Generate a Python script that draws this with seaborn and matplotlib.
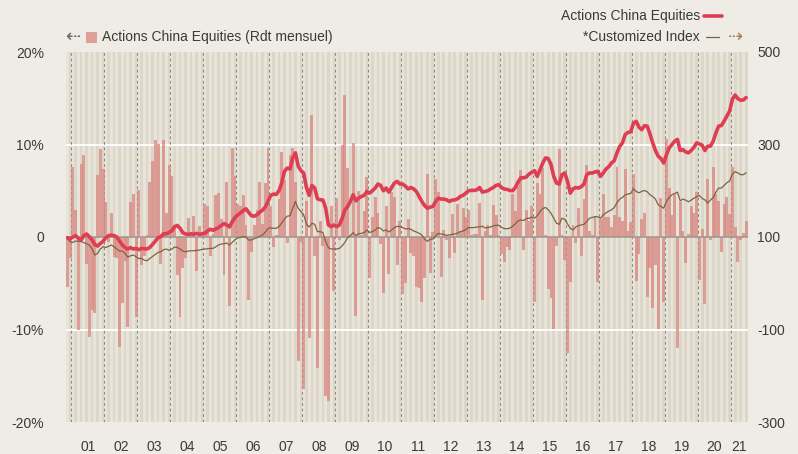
import matplotlib
matplotlib.use("Agg")
import matplotlib.pyplot as plt
import numpy as np
import pandas as pd
import seaborn as sns
from matplotlib.patches import Rectangle
from matplotlib.lines import Line2D

# ---------------- data (monthly, Nov 2000 .. Jun 2021) ----------------
year_labels = ["01", "02", "03", "04", "05", "06", "07", "08", "09", "10", "11",
               "12", "13", "14", "15", "16", "17", "18", "19", "20", "21"]

monthly_return = [
    -5.4, -2.3, 7.6, 2.9, -10.1, 7.9, 8.9, -2.9, -10.8, -7.9,
    -8.2, 6.7, 9.5, 7.3, 3.8, -0.5, 2.6, -2.2, -2.3, -11.9,
    -7.1, -2.6, -9.7, 3.8, 4.6, -8.7, 5.1, -3.0, -2.0, 0.2,
    5.9, 8.2, 10.5, 10.1, -2.9, 10.5, 2.6, 7.8, 6.6, 1.0,
    -4.1, -8.6, -3.3, -2.3, 2.1, 0.3, 2.3, -3.7, 1.2, 0.3,
    3.6, 3.4, -2.0, 0.3, 4.5, 4.8, 2.0, -4.1, 5.9, -7.5,
    9.6, 6.6, 3.6, 3.3, 4.5, 1.3, -6.8, -1.6, 1.3, 2.9,
    5.9, 1.4, 5.8, 9.6, 3.3, -1.1, 0.2, 4.1, 9.2, 6.2,
    -0.6, 8.9, 9.6, 5.9, -13.4, -0.5, -16.4, 3.9, -10.9, 13.2,
    -2.0, -14.2, 1.7, -1.0, -17.2, -17.7, 3.3, -5.8, 4.2, -0.3,
    10.0, 15.3, 7.5, 0.2, 10.2, -8.5, 5.0, 0.2, 2.8, 6.5,
    -4.4, 2.2, 4.3, 2.6, -0.8, -6.1, 3.4, -4.0, 4.9, 4.3,
    -3.0, 1.7, -6.2, -5.0, 2.0, -1.7, -2.1, -5.4, -5.5, -7.0,
    -4.4, 6.8, -3.9, 0.5, 6.3, 4.9, -4.3, 0.8, -0.3, -2.3,
    2.5, -1.7, 3.6, 0.6, 3.1, 2.2, 2.9, 0.2, 0.3, 0.3,
    3.7, -6.8, 0.7, 1.3, 0.2, 3.5, 2.4, 0.2, -1.8, -2.7,
    -1.1, -1.4, 4.7, 2.8, 5.5, 7.2, -1.4, 2.9, 1.7, 3.4,
    -7.0, 5.8, 4.6, 7.5, 0.2, -5.6, -6.6, -9.9, -1.0, 9.5,
    0.2, -2.5, -12.5, -4.9, 1.3, -0.7, 3.1, -2.0, 4.1, 7.8,
    0.7, 0.2, 2.2, -4.9, 2.0, 4.6, 2.2, 2.2, 1.1, 2.4,
    7.6, 2.2, 1.7, 7.4, 0.6, 1.6, 6.8, -4.8, -1.8, 1.9,
    2.6, -6.5, -3.3, -7.7, -3.0, -9.9, 4.2, -7.0, 10.6, 5.3,
    2.4, 4.6, -12.0, 3.8, 0.7, -2.8, 0.3, 3.3, 2.6, 4.9,
    -4.7, 0.9, -7.2, 6.3, -0.3, 7.6, 4.6, 3.9, -1.6, 3.6,
    4.3, 2.5, 7.6, 1.1, -2.7, -0.3, 0.4, 1.7,
]

fund_index = [
    98.5, 96, 100, 103, 97, 93.5, 103, 106.5, 100.7, 93.5,
    84, 80.4, 86, 91, 98.5, 103, 104, 103, 100, 91,
    82.6, 77, 74, 77, 74, 75.4, 72.5, 75.4, 74.6, 74,
    77.5, 84, 91, 98.5, 100.7, 107, 107, 110, 113, 122.5,
    125, 119, 109.4, 106.5, 105.8, 107, 105.8, 108, 105.8, 107,
    108, 113, 116.7, 114.5, 117.4, 120.3, 124.6, 129, 126, 121.7,
    133.3, 142, 147.8, 152, 157, 161, 153, 146, 145, 148,
    153.6, 158, 164.5, 176.8, 190, 192.7, 192, 200, 216.7, 242,
    249, 247, 271, 282, 253, 243.5, 238, 207, 190, 211.6,
    205.8, 182.6, 180.4, 179.7, 162.3, 126, 122.5, 126, 122.5, 126,
    140.6, 158.7, 166, 176.8, 191.3, 178.3, 184, 187.7, 190, 198.5,
    195, 200, 205.8, 214.5, 211.6, 200, 205.8, 197, 207, 216.7,
    220.3, 214.5, 214.5, 210, 204, 207, 204, 198.5, 187.7, 176.8,
    168, 162.3, 164.5, 166, 176.8, 184, 182, 182, 180.4, 176.8,
    179.7, 180.4, 182.6, 187.7, 190, 195, 200, 200.7, 200.7, 202,
    207, 197, 198.5, 200, 204, 207, 211.6, 213, 207, 203.6,
    203, 200.7, 200, 207, 218.8, 228, 228, 229.7, 236, 240,
    243.5, 231, 245.6, 260, 271, 269.6, 256.5, 231, 216.7, 214.5,
    234.8, 238.4, 220.3, 195, 204, 207, 205.8, 208.7, 214.5, 234.8,
    238.4, 238.4, 240.6, 242, 231, 238.4, 247, 252, 260, 265,
    282, 296, 303.6, 321.7, 326, 327.5, 346, 350, 337.7, 332,
    340.6, 339.8, 323, 303.6, 287, 274.6, 269.6, 260, 278, 292.7,
    300, 307, 311, 287, 289, 284, 282, 287, 294, 303.6,
    301.4, 298.5, 287, 296.4, 296.4, 307, 325, 339.8, 341, 350.7,
    361.6, 372.4, 397.8, 407, 399, 395.6, 396.4, 401.4,
]

custom_index = [
    97, 90, 88.4, 91.3, 90.6, 90, 87.7, 85.5, 82.6, 74,
    61, 64.5, 74, 79, 77.5, 79.7, 82.6, 79, 74, 69.6,
    69.6, 64.5, 56.5, 59.4, 61, 57.2, 53.6, 53.6, 50, 48.6,
    53.6, 58, 62.3, 66.7, 68, 72.5, 74, 71, 74, 78.3,
    77.5, 74, 69.6, 68, 69.6, 70.3, 70.3, 71, 71.7, 73.2,
    74, 74.6, 75.4, 75.4, 79, 82.6, 84.8, 85.5, 87, 82.6,
    88.4, 94.2, 97.8, 99.3, 100.7, 99.3, 93.5, 93.5, 96.4, 98.5,
    101.5, 104.3, 110, 118, 119.6, 118.8, 118.8, 122.5, 130.4, 139,
    145, 146, 162, 176.8, 162, 155, 148, 127.5, 121.7, 129.7,
    127.5, 111.6, 111.6, 109.4, 90, 76.8, 74, 74, 74, 75.4,
    81, 88.4, 98.5, 103, 109.4, 103, 107, 108, 109.4, 115.2,
    110, 111.6, 115.2, 120.3, 118.8, 113, 115.2, 110.9, 115.2, 120.3,
    123.2, 122.5, 120.3, 117.4, 118, 116.7, 113, 110.9, 108, 104.3,
    95.7, 90.6, 95, 95.7, 103, 108, 106.5, 105, 103.6, 104.3,
    105.8, 106.5, 108.7, 111.6, 113, 116, 120.3, 120.3, 120.3, 121.7,
    121.7, 123.2, 119.6, 120.3, 121.7, 124, 125.4, 125.4, 121, 118,
    118, 118.8, 123.2, 128.3, 134.8, 137, 135.5, 139.9, 140.6, 142.8,
    140.6, 146.4, 155, 161.6, 163.8, 158.7, 151.4, 140.6, 129.7, 127.5,
    140.6, 138.4, 128.3, 118.8, 115.2, 121.7, 124.6, 126, 127.5, 133.3,
    140.6, 142, 144.2, 143.5, 140.6, 147.8, 152.2, 155.8, 158.7, 163.8,
    174, 182, 185.5, 191.3, 192.7, 194.2, 204.3, 198.5, 195.6, 198.5,
    200.7, 197.8, 191.3, 187.7, 181.9, 169.6, 166, 162.3, 176.8, 185.5,
    191.3, 194.2, 197, 178.3, 181.9, 179.7, 176, 179.7, 184, 187,
    189.9, 183.3, 180.4, 173.2, 179.7, 185.5, 197, 205.8, 205.8, 211.6,
    217.4, 221, 236.2, 241.3, 238.4, 234.8, 234.8, 239,
]

left_ticks = [-20, -10, 0, 10, 20]
left_labels = ["-20%", "-10%", "0", "10%", "20%"]
right_ticks = [-300, -100, 100, 300, 500]
right_labels = ["-300", "-100", "100", "300", "500"]

# ---------------- style ----------------
BG = "#efece5"
STRIPE_LIGHT = "#e8e4da"
STRIPE_DARK = "#dcd7c9"
BAR = "#d8867f"
RED = "#de3d52"
BROWN = "#7c6340"
TXT = "#3a3a3a"

n = len(monthly_return)
months = np.arange(n)
df = pd.DataFrame({"m": months, "ret": monthly_return,
                   "fund": fund_index, "bench": custom_index})

sns.set_theme(style="white")
plt.rcParams["font.family"] = ["Liberation Sans", "DejaVu Sans"]

W, H = 798, 454
fig = plt.figure(figsize=(W / 100, H / 100), dpi=100, facecolor=BG)
x0, x1, y0, y1 = 66, 747.5, 52, 422
ax = fig.add_axes([x0 / W, 1 - y1 / H, (x1 - x0) / W, (y1 - y0) / H])
ax.set_facecolor(STRIPE_LIGHT)

# month stripes
for m in range(1, n, 2):
    ax.axvspan(m - 0.5, m + 0.5, color=STRIPE_DARK, lw=0, zorder=0)

# white gridlines
for v in (10, -10):
    ax.axhline(v, color="white", lw=1.3, zorder=0.5)

# year separators (January)
for m in range(2, n, 12):
    ax.axvline(m - 0.5, color="#8c8a86", lw=0.8, ls=(0, (2.5, 2.5)), zorder=0.6)

sns.barplot(data=df, x="m", y="ret", color=BAR, saturation=1, alpha=0.75,
            width=1.06, errorbar=None, linewidth=0, ax=ax, zorder=2)

ax.axhline(0, color="#9b9892", lw=1.1, zorder=3)

ax2 = ax.twinx()
sns.lineplot(data=df, x="m", y="bench", color=BROWN, lw=0.9, ax=ax2,
             estimator=None, zorder=4)
sns.lineplot(data=df, x="m", y="fund", color=RED, lw=2.6, ax=ax2,
             estimator=None, zorder=5)

ax.set_ylim(-20, 20)
ax2.set_ylim(-300, 500)
ax.set_xlim(-0.5, n - 0.5)
ax2.set_xlim(-0.5, n - 0.5)

# year label positions (centre of each year's months)
centers = []
for i, lab in enumerate(year_labels):
    start = 2 + 12 * i
    end = min(start + 11, n - 1)
    centers.append((start + end) / 2)
ax.set_xticks(centers)
ax.set_xticklabels(year_labels)
ax.set_yticks(left_ticks)
ax.set_yticklabels(left_labels)
ax2.set_yticks(right_ticks)
ax2.set_yticklabels(right_labels)

ax.tick_params(axis="x", length=0, pad=13, labelsize=10, labelcolor=TXT)
ax.tick_params(axis="y", length=0, pad=16, labelsize=10, labelcolor=TXT)
ax2.tick_params(axis="y", length=0, pad=7, labelsize=10, labelcolor=TXT)
for a in (ax, ax2):
    a.set_xlabel("")
    a.set_ylabel("")
    for s in a.spines.values():
        s.set_visible(False)

# ---------------- legends (figure coords in pixels) ----------------
def fx(px):
    return px / W

def fy(py):
    return 1 - py / H

fig.text(fx(65), fy(37), "\u21e0", ha="left", va="center", fontsize=13,
         color="#6b6862", family=["DejaVu Sans"])
fig.patches.append(Rectangle((fx(86), fy(43)), fx(11), 11 / H,
                             transform=fig.transFigure, facecolor=BAR,
                             alpha=0.75, lw=0))
fig.text(fx(102), fy(37), "Actions China Equities (Rdt mensuel)", ha="left",
         va="center", fontsize=10, color=TXT)

fig.text(fx(700), fy(16), "Actions China Equities", ha="right", va="center",
         fontsize=10, color=TXT)
fig.lines.append(Line2D([fx(704), fx(722)], [fy(16), fy(16)],
                        transform=fig.transFigure, color=RED, lw=2.6))
fig.text(fx(700), fy(37), "*Customized Index", ha="right", va="center",
         fontsize=10, color=TXT)
fig.lines.append(Line2D([fx(706), fx(719)], [fy(37), fy(37)],
                        transform=fig.transFigure, color=BROWN, lw=0.9))
fig.text(fx(728), fy(37), "\u21e2", ha="left", va="center", fontsize=13,
         color="#a08256", family=["DejaVu Sans"])

fig.savefig("out.png", dpi=100, facecolor=BG)
